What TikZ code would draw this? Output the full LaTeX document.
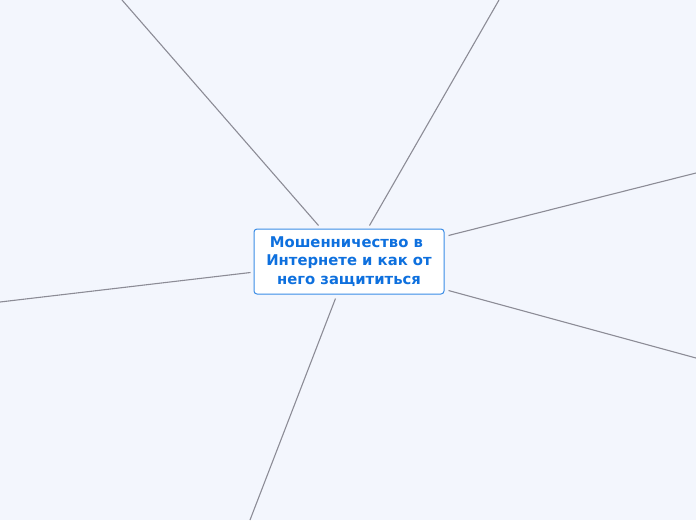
\documentclass[tikz,border=0pt]{standalone}
\usepackage{fontspec}
\setmainfont{DejaVu Sans}
\usetikzlibrary{positioning}
\definecolor{paper}{RGB}{243,246,253}
\definecolor{topicblue}{RGB}{14,112,222}
\definecolor{edgeblue}{RGB}{58,140,230}
\definecolor{branchgrey}{RGB}{140,140,150}

\begin{document}
\begin{tikzpicture}[
				x=1pt, y=-1pt,
				topic/.style = {draw=edgeblue, fill=white, rounded corners=3pt, line width=1pt,
						text=topicblue, font=\bfseries\fontsize{14.8}{18.4}\selectfont, align=center,
						minimum width=190pt, minimum height=65pt, inner sep=2pt},
				branch/.style = {draw=branchgrey, line width=1.1pt},
			]
			\path[use as bounding box, fill=paper] (0,0) rectangle (696,520);
			\node[topic] (root) at (349,261.5) {Мошенничество в\hspace*{0.35em}\\Интернете и как от\\него защититься};
			\coordinate (nw) at (122,0);
			\coordinate (n) at (499,0);
			\coordinate (ne) at (696,173);
			\coordinate (se) at (696,358);
			\coordinate (s) at (250,520);
			\coordinate (w) at (0,302);
			\draw[branch] (nw) -- ([shift={(65,-3)}]root.north west);
			\draw[branch] (n) -- ([shift={(116,-3)}]root.north west);
			\draw[branch] (ne) -- ([shift={(4,7)}]root.north east);
			\draw[branch] (se) -- ([shift={(4,-4)}]root.south east);
			\draw[branch] (s) -- ([shift={(82,4)}]root.south west);
			\draw[branch] (w) -- ([shift={(-3,44)}]root.north west);
		\end{tikzpicture}
\end{document}
